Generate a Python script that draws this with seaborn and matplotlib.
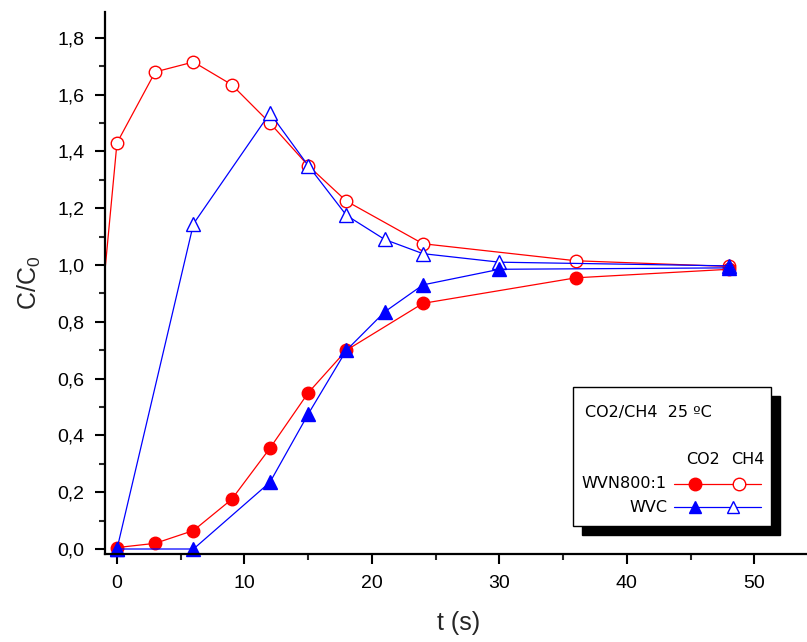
import numpy as np
import matplotlib
matplotlib.use("Agg")
import matplotlib.pyplot as plt
from matplotlib.ticker import FuncFormatter, MultipleLocator
from matplotlib.patches import Rectangle
from matplotlib.lines import Line2D
import seaborn as sns

# data
t_wvn_co2 = [0, 3, 6, 9, 12, 15, 18, 24, 36, 48]
wvn_co2 = [0.005, 0.02, 0.065, 0.175, 0.355, 0.55, 0.70, 0.865, 0.955, 0.985]

t_wvn_ch4 = [-3, 0, 3, 6, 9, 12, 15, 18, 24, 36, 48]
wvn_ch4 = [0.0, 1.43, 1.68, 1.715, 1.635, 1.50, 1.35, 1.225, 1.075, 1.015, 0.995]

t_wvc_co2 = [0, 6, 12, 15, 18, 21, 24, 30, 48]
wvc_co2 = [0.0, 0.0, 0.235, 0.475, 0.70, 0.835, 0.93, 0.985, 0.99]

t_wvc_ch4 = [0, 6, 12, 15, 18, 21, 24, 30, 48]
wvc_ch4 = [0.0, 1.145, 1.535, 1.35, 1.175, 1.09, 1.04, 1.01, 0.997]

RED = "#ff0000"
BLUE = "#0000ff"

sns.set_style("ticks")
plt.rcParams["font.family"] = ["Liberation Sans", "DejaVu Sans"]
plt.rcParams["mathtext.fontset"] = "custom"
plt.rcParams["mathtext.rm"] = "Liberation Sans"
plt.rcParams["mathtext.it"] = "Liberation Sans"

W, H = 807, 642
fig = plt.figure(figsize=(W / 100, H / 100), dpi=100)


def px(x, y):
    return x / W, 1 - y / H


# axes runs past the right edge of the picture, as in the original
ax = fig.add_axes([105 / W, 1 - 554 / H, (813 - 105) / W, (554 - 12) / H])

ms = 9
sns.lineplot(x=t_wvn_ch4, y=wvn_ch4, ax=ax, color=RED, lw=0.9, marker="o", ms=ms,
             markerfacecolor="white", markeredgecolor=RED, markeredgewidth=1.0)
sns.lineplot(x=t_wvn_co2, y=wvn_co2, ax=ax, color=RED, lw=0.9, marker="o", ms=ms,
             markerfacecolor=RED, markeredgecolor=RED, markeredgewidth=1.0, clip_on=False)
sns.lineplot(x=t_wvc_ch4, y=wvc_ch4, ax=ax, color=BLUE, lw=0.9, marker="^", ms=ms + 1,
             markerfacecolor="white", markeredgecolor=BLUE, markeredgewidth=1.0, clip_on=False)
sns.lineplot(x=t_wvc_co2, y=wvc_co2, ax=ax, color=BLUE, lw=0.9, marker="^", ms=ms + 1,
             markerfacecolor=BLUE, markeredgecolor=BLUE, markeredgewidth=1.0, clip_on=False)

ax.set_xlim(-0.94, 54.6)
ax.set_ylim(-0.0176, 1.891)

ax.xaxis.set_major_locator(MultipleLocator(10))
ax.xaxis.set_minor_locator(MultipleLocator(5))
ax.yaxis.set_major_locator(MultipleLocator(0.2))
ax.yaxis.set_minor_locator(MultipleLocator(0.1))
ax.yaxis.set_major_formatter(FuncFormatter(lambda v, p: f"{v:.1f}".replace(".", ",")))

ax.tick_params(which="major", direction="out", length=7, width=1.5, labelsize=14,
               colors="black", pad=8)
ax.tick_params(which="minor", direction="out", length=4, width=1.5)
for side in ["top", "right"]:
    ax.spines[side].set_visible(False)
for side in ["left", "bottom"]:
    ax.spines[side].set_linewidth(1.6)
    ax.spines[side].set_color("black")

ax.set_xlabel("t (s)", fontsize=18, labelpad=14)
ax.set_ylabel("C/C$_0$", fontsize=18, labelpad=10)

# custom legend box with shadow
x0, y0, x1, y1 = 573, 387, 771, 526
shadow = Rectangle(px(x0 + 9, y1 + 9), (x1 - x0) / W, (y1 - y0) / H,
                   transform=fig.transFigure, facecolor="black", edgecolor="black", zorder=5)
box = Rectangle(px(x0, y1), (x1 - x0) / W, (y1 - y0) / H,
                transform=fig.transFigure, facecolor="white", edgecolor="black", lw=1.0, zorder=6)
fig.patches.extend([shadow, box])

lfont = dict(fontsize=11.5, family="DejaVu Sans", color="black", zorder=7)
fig.text(*px(585, 412), "CO2/CH4  25 ºC", ha="left", va="center", **lfont)
fig.text(*px(686, 460), "CO2", ha="left", va="center", **lfont)
fig.text(*px(731, 460), "CH4", ha="left", va="center", **lfont)
fig.text(*px(667, 484), "WVN800:1", ha="right", va="center", **lfont)
fig.text(*px(667, 507), "WVC", ha="right", va="center", **lfont)

for yy, col, mk, mo in [(484, RED, "o", 739), (507, BLUE, "^", 733)]:
    fig.lines.append(Line2D([px(674, yy)[0], px(761, yy)[0]], [px(674, yy)[1]] * 2,
                            transform=fig.transFigure, color=col, lw=0.9, zorder=7))
    fig.lines.append(Line2D([px(695, yy)[0]], [px(695, yy)[1]], transform=fig.transFigure,
                            marker=mk, ms=ms, color=col, mfc=col, mec=col, zorder=8))
    fig.lines.append(Line2D([px(mo, yy)[0]], [px(mo, yy)[1]], transform=fig.transFigure,
                            marker=mk, ms=ms, color=col, mfc="white", mec=col, zorder=8))

fig.savefig("out.png", dpi=100)
